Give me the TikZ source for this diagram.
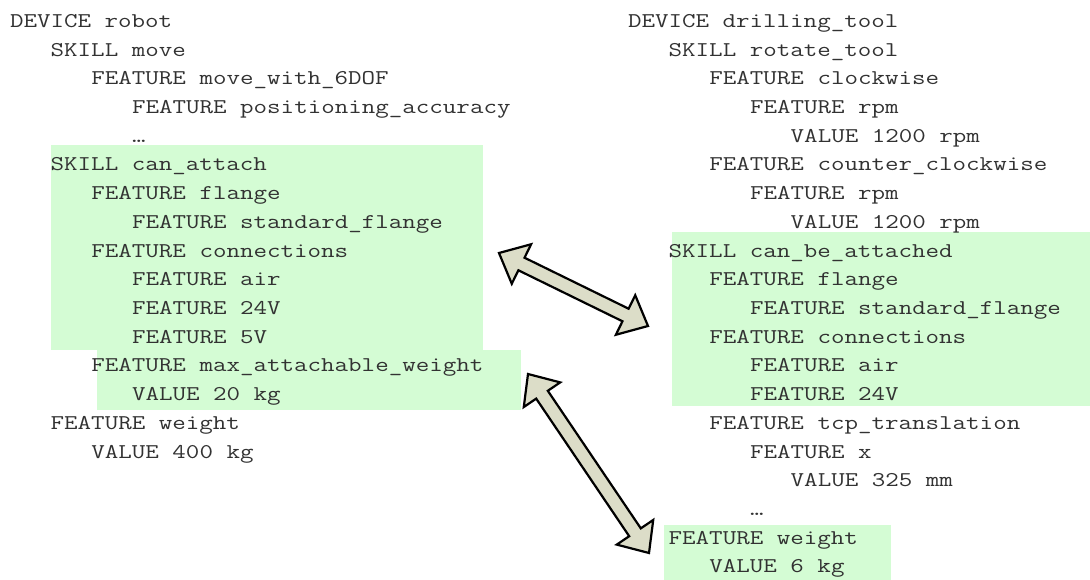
\documentclass[tikz,border=0pt]{standalone}
\usepackage{fontspec}
\usepackage{graphicx}
\usetikzlibrary{calc}
\definecolor{hlgreen}{RGB}{212,252,212}
\definecolor{arrowfill}{RGB}{220,221,200}
\definecolor{codegray}{RGB}{50,50,50}
\tikzset{
  code/.style={anchor=base west, inner sep=0pt, outer sep=0pt,
    font=\ttfamily\fontsize{21}{28.7}\selectfont, text=codegray},
  hl/.style={fill=hlgreen},
  blockarrowstyle/.style={fill=arrowfill, draw=black, line width=2.2pt, line join=miter},
}
% one code line: name, column origin, indent level, line number, text
% (typewriter face widened to a wider character pitch)
\newcommand\codeline[5]{\node[code] (#1) at ({#2+#3*40.68},{27.5+28.7*#4}) {\scalebox{1.25}[1]{#5}};}
% double-headed block arrow between two named coordinates
\newcommand\blockarrow[2]{%
  \coordinate (#1-ha) at ($(#1)!25pt!(#2)$);
  \coordinate (#1-hb) at ($(#2)!25pt!(#1)$);
  \draw[blockarrowstyle] (#1)
    -- ($(#1-ha)!22pt!90:(#2)$)
    -- ($(#1-ha)!7pt!90:(#2)$)
    -- ($(#1-hb)!7pt!-90:(#1)$)
    -- ($(#1-hb)!22pt!-90:(#1)$)
    -- (#2)
    -- ($(#1-hb)!22pt!90:(#1)$)
    -- ($(#1-hb)!7pt!90:(#1)$)
    -- ($(#1-ha)!7pt!-90:(#2)$)
    -- ($(#1-ha)!22pt!-90:(#2)$)
    -- cycle;
}
\begin{document}
\begin{tikzpicture}[x=1pt,y=-1pt]
\useasboundingbox (0,0) rectangle (1090,580);

% highlighted blocks
\fill[hl] (51,145) rectangle (483,350);
\fill[hl] (97,350) rectangle (521,410);
\fill[hl] (672,232) rectangle (1090,406);
\fill[hl] (664,525) rectangle (891,580);

% robot description
\codeline{l0}{10}{0}{0}{DEVICE robot}
\codeline{l1}{10}{1}{1}{SKILL move}
\codeline{l2}{10}{2}{2}{FEATURE move\_with\_6DOF}
\codeline{l3}{10}{3}{3}{FEATURE positioning\_accuracy}
\codeline{l4}{10}{3}{4}{…}
\codeline{l5}{10}{1}{5}{SKILL can\_attach}
\codeline{l6}{10}{2}{6}{FEATURE flange}
\codeline{l7}{10}{3}{7}{FEATURE standard\_flange}
\codeline{l8}{10}{2}{8}{FEATURE connections}
\codeline{l9}{10}{3}{9}{FEATURE air}
\codeline{l10}{10}{3}{10}{FEATURE 24V}
\codeline{l11}{10}{3}{11}{FEATURE 5V}
\codeline{l12}{10}{2}{12}{FEATURE max\_attachable\_weight}
\codeline{l13}{10}{3}{13}{VALUE 20 kg}
\codeline{l14}{10}{1}{14}{FEATURE weight}
\codeline{l15}{10}{2}{15}{VALUE 400 kg}

% drilling tool description
\codeline{r0}{628}{0}{0}{DEVICE drilling\_tool}
\codeline{r1}{628}{1}{1}{SKILL rotate\_tool}
\codeline{r2}{628}{2}{2}{FEATURE clockwise}
\codeline{r3}{628}{3}{3}{FEATURE rpm}
\codeline{r4}{628}{4}{4}{VALUE 1200 rpm}
\codeline{r5}{628}{2}{5}{FEATURE counter\_clockwise}
\codeline{r6}{628}{3}{6}{FEATURE rpm}
\codeline{r7}{628}{4}{7}{VALUE 1200 rpm}
\codeline{r8}{628}{1}{8}{SKILL can\_be\_attached}
\codeline{r9}{628}{2}{9}{FEATURE flange}
\codeline{r10}{628}{3}{10}{FEATURE standard\_flange}
\codeline{r11}{628}{2}{11}{FEATURE connections}
\codeline{r12}{628}{3}{12}{FEATURE air}
\codeline{r13}{628}{3}{13}{FEATURE 24V}
\codeline{r14}{628}{2}{14}{FEATURE tcp\_translation}
\codeline{r15}{628}{3}{15}{FEATURE x}
\codeline{r16}{628}{4}{16}{VALUE 325 mm}
\codeline{r17}{628}{3}{17}{…}
\codeline{r18}{628}{1}{18}{FEATURE weight}
\codeline{r19}{628}{2}{19}{VALUE 6 kg}

% correspondences
\coordinate (attachL) at (499,253);
\coordinate (attachR) at (648,326);
\coordinate (weightL) at (528,374);
\coordinate (weightR) at (649,553);
\blockarrow{attachL}{attachR}
\blockarrow{weightL}{weightR}
\end{tikzpicture}
\end{document}
